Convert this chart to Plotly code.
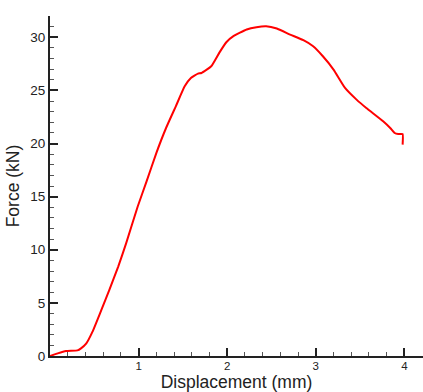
import plotly.graph_objects as go

displacement = [0.0, 0.087, 0.18, 0.31, 0.35, 0.41, 0.48, 0.58, 0.67, 0.77, 0.86, 0.99, 1.09, 1.20,
                1.31, 1.42, 1.52, 1.59, 1.67, 1.71, 1.82, 1.91, 1.99, 2.07, 2.22, 2.33, 2.44, 2.56,
                2.71, 2.86, 2.97, 3.08, 3.20, 3.33, 3.46, 3.57, 3.76, 3.84, 3.89, 3.93, 3.98, 3.98]
force = [0.0, 0.25, 0.47, 0.53, 0.72, 1.19, 2.29, 4.34, 6.22, 8.42, 10.62, 14.07, 16.43, 19.10,
         21.46, 23.5, 25.38, 26.17, 26.58, 26.64, 27.27, 28.53, 29.53, 30.1, 30.73, 30.95, 31.04, 30.82,
         30.25, 29.72, 29.15, 28.21, 26.96, 25.23, 24.13, 23.34, 22.09, 21.46, 20.99, 20.89, 20.89, 19.89]

x_ticks = [1, 2, 3, 4]
y_ticks = [0, 5, 10, 15, 20, 25, 30]

fig = go.Figure()
fig.add_trace(go.Scatter(x=displacement, y=force, mode="lines",
                         line=dict(color="#ff0000", width=2, shape="spline", smoothing=0.4),
                         showlegend=False))

font_family = "Liberation Sans, Arial, sans-serif"
fig.update_layout(
    width=423, height=392,
    margin=dict(l=50, r=0, t=16, b=36),
    plot_bgcolor="white", paper_bgcolor="white",
    font=dict(family=font_family, color="#222"),
)
fig.update_xaxes(
    range=[0, 4.21], tickvals=x_ticks, ticktext=[str(v) for v in x_ticks],
    ticks="inside", ticklen=8, tickwidth=1.5, tickcolor="#222",
    minor=dict(dtick=0.2, ticks="inside", ticklen=4, tickwidth=1, tickcolor="#555"),
    showline=True, linecolor="#222", linewidth=2, showgrid=False, zeroline=False,
    tickfont=dict(size=11.5, color="#222"), ticklabelstandoff=-2,
    title=dict(text="Displacement (mm)", font=dict(size=17.5, color="#222"), standoff=1),
)
fig.update_yaxes(
    range=[0, 32], tickvals=y_ticks, ticktext=[str(v) for v in y_ticks],
    ticks="inside", ticklen=8, tickwidth=1.5, tickcolor="#222",
    minor=dict(dtick=1, ticks="inside", ticklen=4, tickwidth=1, tickcolor="#555"),
    showline=True, linecolor="#222", linewidth=2, showgrid=False, zeroline=False,
    tickfont=dict(size=13.5, color="#222"),
    title=dict(text="Force (kN)", font=dict(size=17.5, color="#222"), standoff=6),
)

fig.write_html("out.html")
